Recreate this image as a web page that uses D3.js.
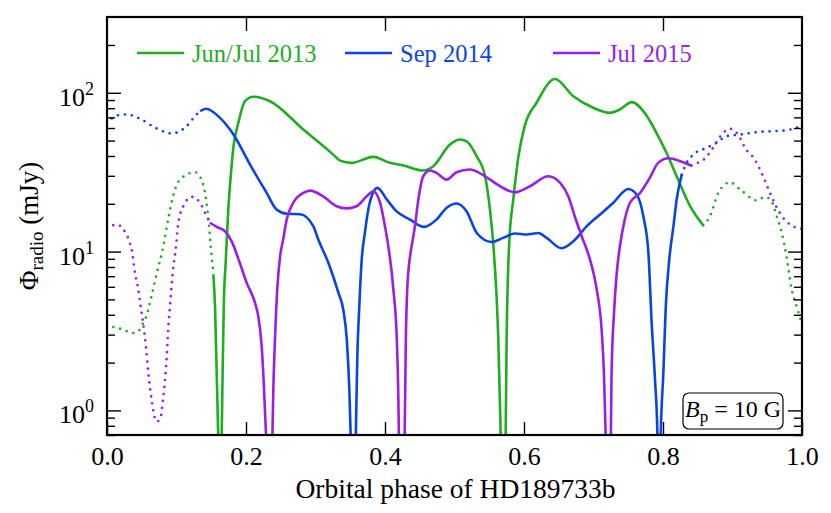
<!DOCTYPE html>
<html>
<head>
<meta charset="utf-8">
<title>Radio flux vs orbital phase</title>
<script src="https://d3js.org/d3.v7.min.js"></script>
<style>
  body { margin: 0; background: #fff; }
  svg { display: block; }
</style>
</head>
<body>
<svg id="chart" width="831" height="513"></svg>
<script>
// [orbital phase, flux in mJy]; dips to 0.15 fall below the axis and get clipped
const jun2013DotA = [[0,3.5],[0.0105,3.33],[0.020,3.26],[0.038,3.07],[0.0465,3.2],[0.0513,3.5],[0.0556,3.8],[0.063,5.0],
  [0.0715,7.3],[0.079,9.8],[0.088,15.9],[0.095,22.3],[0.105,28.4],[0.1266,31.6],[0.136,28.4],[0.1425,21.3],
  [0.146,15.9],[0.1506,9.3],[0.153,7.4]];
const jun2013Solid = [[0.153,7.2],[0.1554,4.5],[0.1578,1.72],[0.160,0.7],[0.1625,0.15],[0.165,0.7],[0.1664,1.72],
  [0.168,4.5],[0.171,8.9],[0.1745,18.4],[0.178,29.8],[0.182,46],[0.189,64.7],[0.1986,88.5],[0.2105,94.4],
  [0.2345,88.5],[0.2825,58.7],[0.3256,40.8],[0.3353,37.4],[0.352,36.2],[0.383,39.5],[0.407,36.2],[0.4266,34.8],
  [0.455,32.4],[0.4695,34.5],[0.4935,47.2],[0.508,50.8],[0.5175,49.5],[0.532,39.8],[0.544,29.8],[0.551,18.4],
  [0.556,10.8],[0.563,2.8],[0.5665,0.7],[0.570,0.15],[0.5736,0.7],[0.575,2.8],[0.579,11.9],[0.5846,21.3],
  [0.592,39.8],[0.601,61.6],[0.618,86.5],[0.6446,122],[0.671,95],[0.6997,80.4],[0.7237,74.8],[0.738,78.5],
  [0.755,87.3],[0.777,71.2],[0.793,53.3],[0.805,41.9],[0.8197,29.8],[0.839,19.3],[0.858,14.6]];
const jun2013DotB = [[0.858,14.6],[0.8676,16.7],[0.8796,23.4],[0.8964,27.3],[0.911,24.6],[0.935,21],[0.947,22.1],
  [0.956,20.8],[0.9636,16.7],[0.971,13.1],[0.978,9.2],[0.985,5.8],[0.9924,4.5],[1.0,3.5]];

const sep2014DotA = [[0,64],[0.014,71.9],[0.0283,73],[0.0475,68.6],[0.0715,59.6],[0.093,55.4],[0.1146,61.6],
  [0.1266,71.2],[0.134,76.6]];
const sep2014Solid = [[0.134,76.6],[0.1425,79.3],[0.1626,69.5],[0.182,54.6],[0.2058,35.3],[0.2298,23.4],[0.244,18.4],
  [0.2585,17.3],[0.278,17.2],[0.297,14.4],[0.304,11.9],[0.3185,8.5],[0.333,5.5],[0.340,4.3],[0.345,2.8],
  [0.3487,1.35],[0.3506,0.7],[0.3543,0.15],[0.358,0.7],[0.3602,2.19],[0.363,4.5],[0.3665,8.9],[0.371,13.1],
  [0.378,20.3],[0.389,25.2],[0.4025,21.3],[0.4168,17.9],[0.436,15.9],[0.456,14.3],[0.474,15.9],[0.4888,18.9],
  [0.503,20.1],[0.5175,17.9],[0.532,13.1],[0.5535,11.5],[0.570,12.2],[0.587,13],[0.604,12.8],[0.6206,13.1],
  [0.6326,12.2],[0.654,10.5],[0.671,11.6],[0.690,14.4],[0.7094,17.1],[0.7285,20.3],[0.750,24.8],[0.762,22.9],
  [0.7717,16.7],[0.779,9.8],[0.7837,3.55],[0.7885,1.56],[0.792,0.7],[0.794,0.15],[0.7967,0.7],[0.8005,1.72],
  [0.804,4.5],[0.809,8.9],[0.815,14.4],[0.8197,21.3],[0.827,30.5]];
const sep2014DotB = [[0.827,30.5],[0.834,36.2],[0.8436,40.8],[0.8628,45],[0.877,48.4],[0.8916,53.3],[0.911,54.6],
  [0.935,56.5],[0.9587,57.3],[0.978,58.1],[1.0,62]];

const jul2015DotA = [[0,14],[0.014,14.8],[0.0235,13.8],[0.033,11.3],[0.0355,10.3],[0.0403,7.3],[0.045,5.8],
  [0.0485,4.5],[0.052,3.55],[0.056,2.53],[0.0595,1.72],[0.0628,1.29],[0.0715,0.85],[0.077,0.895],[0.080,1.11],
  [0.0835,1.56],[0.086,2.19],[0.088,3.2],[0.0906,4.5],[0.0945,7.3],[0.0993,10.8],[0.1026,15.2],[0.1098,19.3],
  [0.1218,22.1],[0.134,20.3],[0.141,17.5],[0.148,15.2]];
const jul2015Solid = [[0.148,15.2],[0.158,14.3],[0.170,13.4],[0.1794,11.6],[0.191,8.5],[0.201,6.35],[0.213,4.75],
  [0.2177,3.91],[0.2226,2.53],[0.226,1.35],[0.2288,0.7],[0.2334,0.15],[0.238,0.7],[0.2393,1.35],[0.2417,2.8],
  [0.245,5.8],[0.249,9.3],[0.2535,11.9],[0.2585,15.9],[0.268,20.3],[0.2825,23.4],[0.292,24.2],[0.311,22.3],
  [0.3305,19.3],[0.345,18.7],[0.359,19.3],[0.3737,22.3],[0.383,24],[0.393,20.3],[0.400,14.4],[0.4033,11.9],
  [0.412,5.8],[0.417,2.8],[0.419,1.35],[0.420,0.7],[0.424,0.15],[0.4283,0.7],[0.43,2.8],[0.432,5.8],[0.436,9.3],
  [0.44,11.9],[0.443,14.4],[0.448,21.3],[0.455,29.8],[0.4647,32.4],[0.474,31.3],[0.4888,28.4],[0.503,31.6],
  [0.522,32.9],[0.544,29.8],[0.5655,25.8],[0.587,23.6],[0.6086,25.8],[0.635,29.8],[0.652,27.1],[0.6637,22.3],
  [0.673,16.7],[0.683,12.5],[0.695,8.9],[0.7046,5.8],[0.7117,3.2],[0.715,1.72],[0.7175,0.7],[0.721,0.15],
  [0.725,0.7],[0.726,1.72],[0.7295,4.1],[0.7334,7.3],[0.738,10.8],[0.745,15.9],[0.7525,20.3],[0.767,23.4],
  [0.781,29.1],[0.793,36.2],[0.808,38.7],[0.825,37.1],[0.841,34.8]];
const jul2015DotB = [[0.841,34.8],[0.8485,35.9],[0.860,38.4],[0.872,45],[0.882,52.8],[0.8964,59.3],[0.908,54.6],
  [0.918,45],[0.932,38],[0.944,29.8],[0.956,22.3],[0.968,17.5],[0.9827,14.8],[1.0,13.9]];

const seriesNames = ["Jun/Jul 2013", "Sep 2014", "Jul 2015"];
const seriesColors = ["#1fae1f", "#0b44e4", "#9a1ee8"];

const phaseTicks = [0, 0.2, 0.4, 0.6, 0.8, 1.0];
const phaseLabels = ["0.0", "0.2", "0.4", "0.6", "0.8", "1.0"];
const fluxDecades = [1, 10, 100];
const fluxExponents = ["0", "1", "2"];

// segments: series index + dotted flag
const segments = [
  {s: 0, dotted: true, data: jun2013DotA}, {s: 0, dotted: false, data: jun2013Solid}, {s: 0, dotted: true, data: jun2013DotB},
  {s: 1, dotted: true, data: sep2014DotA}, {s: 1, dotted: false, data: sep2014Solid}, {s: 1, dotted: true, data: sep2014DotB},
  {s: 2, dotted: true, data: jul2015DotA}, {s: 2, dotted: false, data: jul2015Solid}, {s: 2, dotted: true, data: jul2015DotB}
];

const serif = 'Liberation Serif';
const margin = {top: 17, right: 29, bottom: 78, left: 107};
const W = 831, H = 513;
const w = W - margin.left - margin.right;
const h = H - margin.top - margin.bottom;

const svg = d3.select('#chart');
const g = svg.append('g').attr('transform', `translate(${margin.left},${margin.top})`);

const x = d3.scaleLinear().domain([0, 1]).range([0, w]);
const y = d3.scaleLog().domain([0.7, 300]).range([h, 0]);

// minor ticks 2..9 per decade inside the domain
const minorTicks = [];
[0.1, 1, 10, 100].forEach(d => {
  for (let k = 2; k <= 9; k++) {
    const v = d * k;
    if (v > 0.7 && v < 300 && !fluxDecades.includes(v)) minorTicks.push(v);
  }
});

g.append('clipPath').attr('id', 'clip')
  .append('rect').attr('width', w).attr('height', h);

// curves
const line = d3.line()
  .x(d => x(d[0]))
  .y(d => y(d[1]))
  .curve(d3.curveMonotoneX);

g.append('g').attr('clip-path', 'url(#clip)')
  .selectAll('path')
  .data(segments)
  .join('path')
  .attr('d', d => line(d.data))
  .attr('fill', 'none')
  .attr('stroke', d => seriesColors[d.s])
  .attr('stroke-width', d => d.dotted ? 2.7 : 2.6)
  .attr('stroke-linecap', d => d.dotted ? 'round' : 'butt')
  .attr('stroke-linejoin', 'round')
  .attr('stroke-dasharray', d => d.dotted ? '0 7' : null);

// axes with inward ticks
function styleAxis(sel) {
  sel.select('.domain').remove();
  sel.selectAll('.tick line').attr('stroke', '#000').attr('stroke-width', 1.4);
}

g.append('g').attr('transform', `translate(0,${h})`)
  .call(d3.axisBottom(x).tickValues(phaseTicks).tickSizeInner(-13).tickSizeOuter(0)
    .tickPadding(12).tickFormat((d, i) => phaseLabels[i]))
  .call(styleAxis)
  .call(a => a.selectAll('text').style('font-family', serif).attr('font-size', 26).attr('fill', '#000'));

g.append('g')
  .call(d3.axisTop(x).tickValues(phaseTicks.slice(1, -1)).tickSizeInner(-14).tickSizeOuter(0).tickFormat(''))
  .call(styleAxis);

g.append('g')
  .call(d3.axisLeft(y).tickValues(fluxDecades).tickSizeInner(-14).tickSizeOuter(0).tickFormat(''))
  .call(styleAxis);
g.append('g')
  .call(d3.axisLeft(y).tickValues(minorTicks).tickSizeInner(-8).tickSizeOuter(0).tickFormat(''))
  .call(styleAxis);
g.append('g').attr('transform', `translate(${w},0)`)
  .call(d3.axisRight(y).tickValues(fluxDecades).tickSizeInner(-14).tickSizeOuter(0).tickFormat(''))
  .call(styleAxis);
g.append('g').attr('transform', `translate(${w},0)`)
  .call(d3.axisRight(y).tickValues(minorTicks).tickSizeInner(-8).tickSizeOuter(0).tickFormat(''))
  .call(styleAxis);

// y tick labels as 10^n
const yLab = g.append('g').selectAll('text')
  .data(fluxDecades)
  .join('text')
  .attr('x', -13)
  .attr('y', d => y(d) + 13)
  .attr('text-anchor', 'end')
  .style('font-family', serif)
  .attr('font-size', 26);
yLab.append('tspan').text('10');
yLab.append('tspan').attr('dy', -11).attr('font-size', 18).text((d, i) => fluxExponents[i]);

// frame
g.append('rect')
  .attr('width', w).attr('height', h)
  .attr('fill', 'none').attr('stroke', '#000').attr('stroke-width', 2.2);

// axis titles
g.append('text')
  .attr('x', w / 2 + 1).attr('y', h + 63)
  .attr('text-anchor', 'middle')
  .style('font-family', serif)
  .attr('font-size', 27.5)
  .text('Orbital phase of HD189733b');

const yt = svg.append('text')
  .attr('transform', 'translate(38,226) rotate(-90)')
  .attr('text-anchor', 'middle')
  .style('font-family', serif)
  .attr('font-size', 27);
yt.append('tspan').text('Φ');
yt.append('tspan').attr('dy', 5).attr('font-size', 19).text('radio');
yt.append('tspan').attr('dy', -5).text(' (mJy)');

// legend
const legendX = [30, 238, 446];
const leg = g.append('g').selectAll('g')
  .data(seriesNames)
  .join('g')
  .attr('transform', (d, i) => `translate(${legendX[i]},36)`);
leg.append('line')
  .attr('x1', 0).attr('x2', 47)
  .attr('stroke', (d, i) => seriesColors[i])
  .attr('stroke-width', 2.6);
leg.append('text')
  .attr('x', 55).attr('y', 9)
  .style('font-family', serif)
  .attr('font-size', 24.5)
  .attr('fill', (d, i) => seriesColors[i])
  .text(d => d);

// field strength box
const box = g.append('g').attr('transform', `translate(${w - 119},${h - 42})`);
box.append('rect')
  .attr('width', 100).attr('height', 36).attr('rx', 6)
  .attr('fill', '#fff').attr('stroke', '#000').attr('stroke-width', 1.2);
const bt = box.append('text').attr('x', 50).attr('y', 24).attr('text-anchor', 'middle')
  .style('font-family', serif).attr('font-size', 24);
bt.append('tspan').attr('font-style', 'italic').text('B');
bt.append('tspan').attr('dy', 5).attr('font-size', 17).text('p');
bt.append('tspan').attr('dy', -5).text(' = 10 G');
</script>
</body>
</html>
